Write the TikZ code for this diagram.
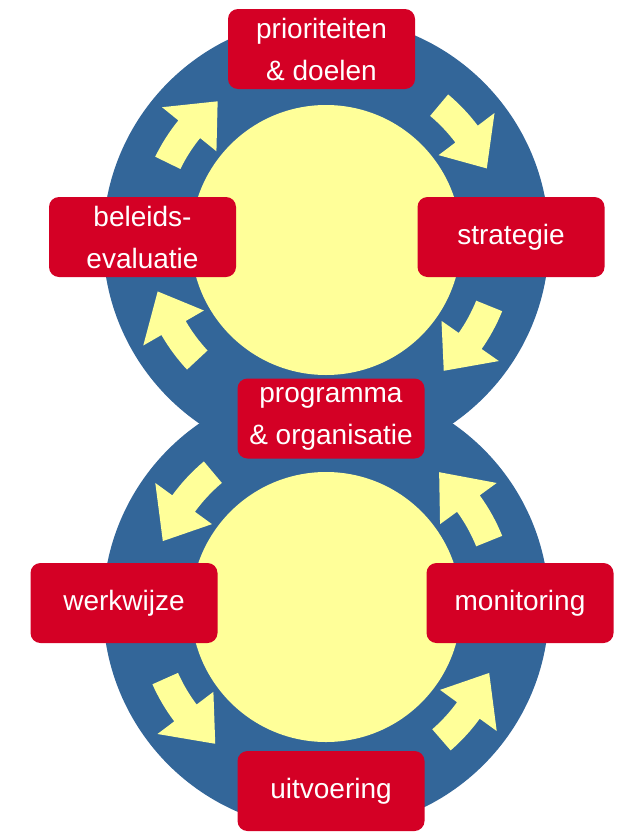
\documentclass[tikz,border=0pt]{standalone}
\usepackage{fontspec}
\setmainfont{Liberation Sans}
\usetikzlibrary{calc}
\definecolor{ringblue}{HTML}{336699}
\definecolor{sunyellow}{HTML}{FFFF99}
\definecolor{boxred}{HTML}{D40025}
\tikzset{
  ring/.style={fill=ringblue},
  core/.style={fill=sunyellow},
  arrowfill/.style={fill=sunyellow},
  stagebox/.style={fill=boxred, rounded corners=10pt, minimum width=187pt, minimum height=80pt,
    inner sep=0pt, align=center, text=white, font=\fontsize{28}{42}\selectfont}
}
\newcommand\yarrow[4]{%
  \fill[arrowfill] ($(#1)+(#2:190pt)$) arc[start angle=#2, end angle=#3, radius=190pt]
    -- ($(#1)+(#3:211pt)$) -- ($(#1)+(#4:176pt)$) -- ($(#1)+(#3:141pt)$)
    -- ($(#1)+(#3:162pt)$) arc[start angle=#3, end angle=#2, radius=162pt] -- cycle;}
\begin{document}
\begin{tikzpicture}[x=1pt,y=1pt]
\useasboundingbox (0,0) rectangle (634,-838);
\coordinate (T) at (326,-240);
\coordinate (B) at (326,-607);
\fill[ring] (T) circle[radius=223pt];
\fill[ring] (B) circle[radius=223pt];
\fill[core] (T) circle[radius=135pt];
\fill[core] (B) circle[radius=135pt];
% top circle arrows (clockwise)
\yarrow{T}{154}{141}{128}
\yarrow{T}{50}{37}{24}
\yarrow{T}{-22}{-35}{-48}
\yarrow{T}{223}{210}{197}
% bottom circle arrows (counter-clockwise)
\yarrow{B}{130}{144}{158}
\yarrow{B}{204}{217}{231}
\yarrow{B}{-49}{-36}{-22}
\yarrow{B}{22}{36}{50}
% boxes
\node[stagebox] (prio) at (321.5,-49) {prioriteiten\\\& doelen};
\node[stagebox] (bel) at (142.5,-237) {beleids-\\evaluatie};
\node[stagebox] (strat) at (511,-237) {strategie};
\node[stagebox] (prog) at (331,-418.5) {programma\\\& organisatie};
\node[stagebox] (werk) at (124,-603) {werkwijze};
\node[stagebox] (mon) at (520,-603) {monitoring};
\node[stagebox] (uit) at (331,-791) {uitvoering};
\end{tikzpicture}
\end{document}
